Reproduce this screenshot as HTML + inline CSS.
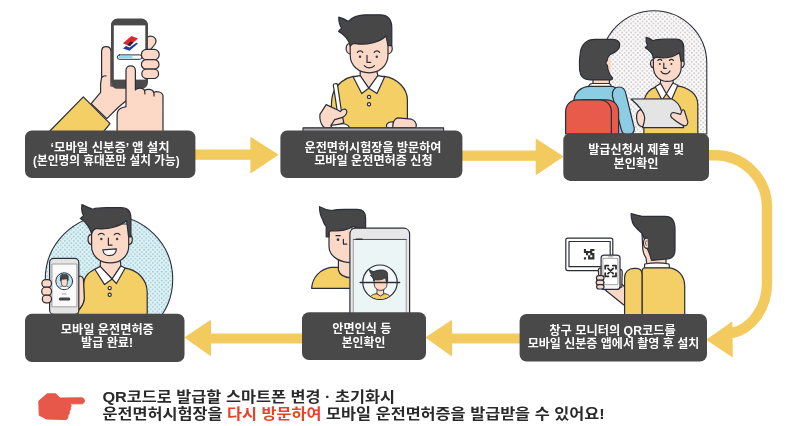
<!DOCTYPE html>
<html lang="ko">
<head>
<meta charset="utf-8">
<title>모바일 운전면허증 발급 절차</title>
<style>
html,body{margin:0;padding:0;background:#fff;}
body{width:790px;height:426px;overflow:hidden;font-family:"Liberation Sans","Noto Sans CJK KR",sans-serif;}
svg{display:block;will-change:transform;opacity:.999;}
.bx{fill:#494949;}
.ar{fill:#f2ca5e;}
.t{font-family:"Liberation Sans","Noto Sans CJK KR",sans-serif;font-weight:700;font-size:12px;fill:#fff;text-anchor:middle;stroke:#3a3a3a;stroke-width:.25px;paint-order:stroke;}
.b{font-family:"Liberation Sans","Noto Sans CJK KR",sans-serif;font-weight:700;font-size:15px;fill:#2a2a2a;}
.o{stroke:#2b2e39;stroke-width:1.2;stroke-linejoin:round;stroke-linecap:round;}
</style>
</head>
<body>
<svg width="790" height="426" viewBox="0 0 790 426">
<defs>
<pattern id="dots" width="4.5" height="4.5" patternUnits="userSpaceOnUse"><rect width="4.5" height="4.5" fill="#fbfbfb"/><circle cx="1.1" cy="1.1" r=".85" fill="#c6bebe"/><circle cx="3.35" cy="3.35" r=".85" fill="#c6bebe"/></pattern>
<pattern id="bdots" width="4.4" height="4.4" patternUnits="userSpaceOnUse"><rect width="4.4" height="4.4" fill="#d9f3f8"/><rect x=".4" y=".4" width="1.4" height="1.4" fill="#a3bfc5"/><rect x="2.6" y="2.6" width="1.4" height="1.4" fill="#a3bfc5"/></pattern>
</defs>
<rect width="790" height="426" fill="#fff"/>

<!-- ARROWS -->
<g class="ar" stroke="#f2ca5e" stroke-width="1.2" stroke-linejoin="round">
<polygon points="195,150 251,150 251,137.8 277.6,154.8 251,172.6 251,159.2 195,159.2"/>
<polygon points="462,151.2 536.3,151.2 536.3,139.4 562.6,156.6 536.3,174.2 536.3,160.2 462,160.2"/>
<polygon points="520,334.2 451.5,334.2 451.5,320.8 426.4,337.6 451.5,355.6 451.5,342.8 520,342.8"/>
<polygon points="302,334.2 210.4,334.2 210.4,320.8 185.4,337.6 210.4,355.2 210.4,342.8 302,342.8"/>
</g>
<path d="M709,155.3 H715 A52,52 0 0 1 767,207 V283 A43,51 0 0 1 731.6,333.2" fill="none" stroke="#f2ca5e" stroke-width="10.4"/>
<polygon class="ar" points="707.2,339.7 731.8,322.4 732.2,356.6" stroke="#f2ca5e" stroke-width="1.2" stroke-linejoin="round"/>

<!-- ILLUSTRATIONS -->
<g id="ill1" class="o">
<polygon points="83.3,96.8 110,123.6 100,136 45,136" fill="#f3cf66"/>
<path d="M91.2,103.6 L100.6,92.4 C100.2,87 100.4,82 101.6,77.5 L101.6,51.5 C101.6,45 110.6,45 111,51.5 L111,86 L127,86 L127,100 L118.6,107 L106.8,118.6 Z" fill="#fbd9c6"/>
<path d="M101.6,77.5 C103,76 104.5,75.6 106,75.8" fill="none"/>
<path d="M147,49.5 L147,37.5 C150,34.5 156.2,36.6 156,41.5 C155.8,45.5 152,47 150.5,49.5 Z" fill="#fbd9c6"/>
<rect x="111" y="18.5" width="37" height="70.3" rx="6.5" fill="#4a4a4a" stroke="none"/>
<rect x="113.8" y="25.4" width="31.5" height="54.2" fill="#fff" stroke="none"/>
<polygon points="131.4,36 138.1,38.5 129.2,46 122.9,43.2" fill="#e0262d" stroke="none"/>
<polygon points="130.4,41.4 133.5,42.2 130,46.2 127.6,44.8" fill="#2a2230" stroke="none"/>
<polygon points="122.9,48.6 126,46 129.5,47.5 136.3,42.8 138,43.6 129.5,50.7" fill="#1a3fa0" stroke="none"/>
<rect x="117.3" y="54.9" width="24.6" height="4.4" rx="2.2" fill="#fbfeff" stroke-width="1"/>
<rect x="118.3" y="55.9" width="14.4" height="2.4" rx="1.2" fill="#8fdcf0" stroke="none"/>
<rect x="141.4" y="49.4" width="17.8" height="10.4" rx="5" fill="#fbd9c6"/>
<rect x="141.4" y="59.6" width="17.6" height="9.6" rx="4.8" fill="#fbd9c6"/>
<rect x="141.8" y="69.1" width="16.8" height="9.4" rx="4.7" fill="#fbd9c6"/>
<path d="M117.1,136 L117.1,114.8 C117.2,111.5 118.4,109.8 120.4,108.6 C122,107.6 124,107 126,106.6 L126,70.5 C126,64.4 135.4,64.4 135.4,70.5 L135.4,90 C137,87.6 143,87.4 144.6,90.6 C146.6,88.6 152.4,88.8 153.8,92.4 C156,91 162.6,91.6 163,96 L163,136 Z" fill="#fbd9c6"/>
<path d="M144.6,90.6 L144.9,94 M153.8,92.4 L154.1,96" fill="none"/>
</g>
<g id="ill2" class="o">
<path d="M353,76.4 C345,78 337,84 333.6,92 C331.6,97 331.4,102 331.4,106 L331.4,128 L407.4,128 L407.4,100 C407.4,88 397,78.4 384.4,76.4 Z" fill="#f3cf66"/>
<polygon points="360.2,70 376.6,70 378,76.4 368.8,88.4 360.2,76.4" fill="#fbd9c6"/>
<polygon points="353.2,77 360.2,75.6 368.8,88.2 361.7,93.6" fill="#fff"/>
<polygon points="384.6,77 377.8,75.6 368.8,88.2 377,93.6" fill="#fff"/>
<circle cx="369" cy="96.9" r="1.6" fill="#fff"/>
<circle cx="369" cy="104.3" r="1.6" fill="#fff"/>
<!-- ears -->
<path d="M350.4,43.6 C345,42.4 344.4,53.6 350.4,54" fill="#fbd9c6"/>
<path d="M387.8,43.6 C393.4,42.4 394,53.6 387.8,54" fill="#fbd9c6"/>
<!-- face -->
<path d="M350.2,36 L388,36 L388,55 C388,66 379,72.8 369,72.8 C359,72.8 350.2,66 350.2,55 Z" fill="#fbd9c6"/>
<!-- hair -->
<path d="M350.2,46 C349,40 344,34 338.6,31.4 C339.6,30 340.6,29 341.6,28.2 C339.6,25 338.6,21 338.8,17.2 C342,18 345.4,19.4 348.4,21.4 C352,17 358,14.8 366,14.8 L380,14.8 C388,14.8 391.8,20 391.8,28 L391.8,45.6 L388,45.6 L386,36 C380,42 366,46 355,43.4 C353,43.4 351.4,44.6 350.2,46 Z" fill="#474747"/>
<!-- features -->
<circle cx="360" cy="56.7" r="1.2" fill="#3c3c3c" stroke="none"/>
<circle cx="376.8" cy="56.7" r="1.2" fill="#3c3c3c" stroke="none"/>
<path d="M357.4,52.4 C358.6,50.4 361.6,50.4 362.8,52.4 M374.2,52.4 C375.4,50.4 378.4,50.4 379.6,52.4 M367,55.4 L367,62.3 L370.8,62.3 M364.2,65.6 C366.6,68.6 372,68.6 374.5,65.6" fill="none"/>
<!-- pen -->
<path d="M333.3,85 C333.2,83.6 337.2,83.2 337.5,84.6 L342.4,118 L338.4,118.6 Z" fill="#fff"/>
<!-- paper -->
<path d="M331,128 L331,124.6 C336,123.6 342,123.4 345,124 C347.4,124.6 349,126 350,128 Z" fill="#fff"/>
<!-- left hand -->
<path d="M326.2,104.6 L338.2,110.2 L340.3,111.6 C342,109.4 345,108 346.4,110.2 C348,112.6 345.6,115.6 342.7,117.3 L343.8,122.9 C340,124.4 335,125 331.1,125.2 L331.1,127.8 L324.6,127.8 L322.7,126 C320.6,123 319.6,119 319.9,114.4 Z" fill="#fbd9c6"/>
<path d="M331.1,125.2 L334.6,119.6 L342.7,117.3" fill="none"/>
<!-- right hand -->
<path d="M386.4,126 C386.4,123.4 389.4,121.8 393.4,121.6 L393.4,127.8 L388,127.8 C387,127.6 386.4,127 386.4,126 Z" fill="#fde9de"/>
<path d="M392.8,127.8 C392.4,123 394.4,118.6 397.6,117.8 L411.6,119.2 C414.6,120.4 416.4,123.4 416.3,126 C416.2,127.2 415.6,127.8 414.6,127.8 Z" fill="#fbd9c6"/>
<!-- desk -->
<rect x="303" y="127.6" width="140.6" height="3.6" fill="#a6a6a6" stroke="none"/><path d="M303,131 V127.9 H443.6 V131" fill="none" stroke-width="1.1"/>
</g>
<g id="ill3" class="o">
<path d="M601.2,134 V63.5 A52.8,52.8 0 0 1 706.8,63.5 V134 Z" fill="url(#dots)" stroke-width="1.1"/>
<!-- man body -->
<path d="M655.4,87.4 C650,89 646.4,93 644.6,98.4 L643.8,134 L697.8,134 L697.8,104 C697.4,94 689,87.4 677,85.8 Z" fill="#f3cf66"/>
<polygon points="661,78 672.7,78 673.4,84 666.4,94 660,84.6" fill="#fbd9c6"/>
<polygon points="655.2,86.8 660.6,83.4 666.4,93.8 662,100" fill="#fff"/>
<polygon points="677.8,85.2 672.8,83 666.4,93.8 671.4,100" fill="#fff"/>
<!-- man ears/face -->
<path d="M653.6,59.6 C649.6,58.8 649.4,67.4 653.6,67.8" fill="#fbd9c6"/>
<path d="M681,59.6 C685.2,58.8 685.4,67.4 681,67.8" fill="#fbd9c6"/>
<path d="M653.4,52 L681.2,52 L681.2,67 C681.2,76 674.6,81.4 667.4,81.4 C660,81.4 653.4,76 653.4,67 Z" fill="#fbd9c6"/>
<path d="M653.6,59 C653,54.6 649.4,50 645.2,47.8 C646,46.8 646.8,46 647.6,45.4 C646.2,43 645.8,40 646.1,37.4 C648.6,38 651,39.2 653,40.8 C655.6,39.4 659,39.2 664,39.2 L676,39.2 C681.4,39.2 683.8,42.4 683.8,48 L683.8,61.2 L681,61.2 L679.4,52.6 C675,56.6 665,59.4 657,57.2 C655.6,57.4 654.4,58 653.6,59 Z" fill="#474747"/>
<circle cx="659.8" cy="63.9" r="1" fill="#3c3c3c" stroke="none"/>
<circle cx="671.4" cy="63.9" r="1" fill="#3c3c3c" stroke="none"/>
<path d="M657.8,60.4 C658.8,59 660.8,59 661.8,60.4 M669.4,60.4 C670.4,59 672.4,59 673.4,60.4 M663.8,63.2 L663.8,68.4 L666.2,68.4 M661,71.4 C663,74.8 668,74.8 670,71" fill="none"/>
<!-- left hand behind paper -->
<path d="M640.4,109.6 C637.4,110.6 636.4,114 636.6,118 C636.8,122 638.6,126.4 641.6,126.6 L646,126.6 L646,110 Z" fill="#fbd9c6"/>
<!-- paper/tablet -->
<path d="M631,99 L671.3,98.8 C676.6,101 680,105 681.6,111.6 L683.5,127.7 L642.6,127.7 C644,123 645,120 644.6,117 C643.6,110 637,104 631,99 Z" fill="#e4e4e4"/>
<!-- right hand -->
<path d="M670.7,116 C670.6,114 672,112.6 673.7,112.5 L680.6,114.4 L682,110.4 C682.6,109.4 684,109.6 684.4,110.8 L687.8,121.6 C688,124 686.6,125.8 684.7,125.9 C680,124.4 676.6,121.4 673.7,119.2 C672,118.4 671,117.4 670.7,116 Z" fill="#fbd9c6"/>
<!-- woman -->
<rect x="593" y="76" width="16.4" height="9" fill="#fbd9c6"/>
<path d="M588.4,87 C589,85 590.4,83.6 592.4,83.5 L608.6,83.5 C610,83.6 611,85 611.4,87 Z" fill="#fff"/>
<path d="M573.8,134 L573.8,102 C573.8,93 581,86.3 590,86.3 L611,86.3 C615,86.4 617,88 618,91 L626,134 Z" fill="#8dcde4"/>
<path d="M612.4,96 C611.6,90.4 615,87 619,87 C623,87 625,89.6 625.8,93.4 L634.2,128 C635,132 632,135 628,135 C624,135 622.2,133 621.4,130 Z" fill="#8dcde4"/>
<path d="M604.8,56 L611,56 L611,72.8 L604.8,72.8 Z" fill="#fbd9c6" stroke="none"/>
<path d="M579.6,70 C579,64 579.4,58 580.4,52 C581.6,44 587,39.3 595,39.3 L613,39.3 C618.4,39.3 620.6,43 619.4,47 C618.4,50.6 614.6,52.6 610.4,54.4 C608.4,56.4 607,58.6 607.2,60.6 C605.6,61.4 605.4,64.6 607.4,65.2 C607.6,70 609.6,74.6 612.4,77.8 C612.8,79 612,79.9 610.6,79.9 L590,79.9 C584,79.9 580.2,76 579.6,70 Z" fill="#494949"/>
<!-- chair -->
<path d="M573,134 L573,112 C573,104.6 578,99.8 585,99.8 L606.6,99.8 C613.6,99.8 618.6,104.6 618.6,112 L618.6,134 Z" fill="#e85a4a"/>
<path d="M565.6,134 L565.6,112 C565.6,104.6 570.6,99.8 577.6,99.8 L599.4,99.8 C606.4,99.8 611.4,104.6 611.4,112 L611.4,134 Z" fill="#e85a4a"/>
</g>
<g id="ill4" class="o">
<!-- monitor -->
<rect x="565.8" y="238.2" width="47" height="32.4" rx="2" fill="#fff"/>
<rect x="569" y="241.5" width="41.2" height="25.2" fill="#fff" stroke-width="1.2"/>
<path d="M583.9,248.9h2.1v2.1h-2.1zM590.2,248.9h2.1v2.1h-2.1zM592.3,248.9h2.1v2.1h-2.1zM583.9,251.0h2.1v2.1h-2.1zM586.0,251.0h2.1v2.1h-2.1zM588.1,251.0h2.1v2.1h-2.1zM590.2,251.0h2.1v2.1h-2.1zM586.0,253.1h2.1v2.1h-2.1zM590.2,253.1h2.1v2.1h-2.1zM592.3,253.1h2.1v2.1h-2.1zM588.1,255.2h2.1v2.1h-2.1zM592.3,255.2h2.1v2.1h-2.1zM583.9,257.3h2.1v2.1h-2.1zM588.1,257.3h2.1v2.1h-2.1zM590.2,257.3h2.1v2.1h-2.1zM592.3,257.3h2.1v2.1h-2.1z" fill="#2e2e2e" stroke="none"/>
<!-- wrist -->
<path d="M604,289 L623.8,305 L626,305 L626,288 L621.6,284 Z" fill="#fbd9c6"/>
<!-- index finger behind phone + thumb -->
<path d="M601.4,275.6 L601.4,268.6 C600,267.4 598.4,268.4 598.4,270.4 L598.6,275.8 Z" fill="#fbd9c6"/>
<path d="M619.6,269.6 C621.6,269 622.4,270.6 622.2,273 L621.8,287 L619.6,288 Z" fill="#fbd9c6"/>
<!-- phone -->
<rect x="601.1" y="255.1" width="18.9" height="34.3" rx="3" fill="#f6f6f6"/>
<rect x="603.3" y="258.4" width="14.6" height="26.2" fill="#fff" stroke="#8a8a8a" stroke-width=".7"/>
<path d="M608.6,256.8 H612.6" stroke="#8a8a8a" stroke-width=".7"/>
<path d="M605.2,268.8 V265.6 H608.4 M612.8,265.6 H616.0 V268.8 M605.2,273.2 V276.4 H608.4 M612.8,276.4 H616.0 V273.2 M608.0,268.4 L613.2,273.6 M613.2,268.4 L608.0,273.6" fill="none" stroke="#2e2e2e" stroke-width="1.8" stroke-linecap="round" stroke-linejoin="round"/>
<!-- fingers -->
<rect x="596.4" y="275.6" width="7.6" height="4.8" rx="2.3" fill="#fbd9c6"/>
<rect x="596.2" y="280.2" width="7.8" height="4.6" rx="2.3" fill="#fbd9c6"/>
<rect x="596.6" y="284.6" width="7.4" height="4.4" rx="2.2" fill="#fbd9c6"/>
<!-- neck/face -->
<path d="M642,233.4 L642.8,249.6 C643.4,253 644.6,256 646,257.8 L646.9,265 L666,265 L666,240 Z" fill="#fbd9c6"/>
<!-- collar -->
<path d="M644.7,264 C652,262.6 662,262.6 669,264 L669.6,268.4 L644.4,268.4 Z" fill="#fff"/>
<!-- body -->
<path d="M642,315 L642,272 C642,270 643,268 644.6,267.8 L669,267.8 C678,268.6 684.7,276 684.7,286 L684.7,315 Z" fill="#f3cf66"/>
<path d="M624.6,315 L624.6,277.6 C624.6,272 628.6,268.4 634,268.4 L636,268.4 C639.6,268.4 642,270.6 642,274 L642,315 Z" fill="#f3cf66"/>
<!-- hair -->
<path d="M631.2,213.6 C634,214.4 638,215.6 642,216.3 L665,216.3 C671.6,216.3 675,221 675,229 L675,250 C675,255 672,258.4 667.7,259 L651.5,260.4 C650.4,256 648,250 647,248.2 C646,243 644,237 642,233.4 C638,229.6 633.4,226 632.4,222 C631.4,219 631,216 631.2,213.6 Z" fill="#474747"/>
<!-- ear -->
<path d="M647.6,238.2 C643.4,237 642.4,244 644.4,247 C645.4,248.4 647,248.6 648,248" fill="#fbd9c6"/>
<path d="M646.8,240.6 C645.2,241 645,244 646.2,245.4" fill="none" stroke-width=".8"/>
</g>
<g id="ill5" class="o">
<!-- body -->
<path d="M311.6,288.3 C312.4,277 320,269.4 331,267.4 L352,267.4 L352,288.3 Z" fill="#f3cf66"/>
<!-- neck + face -->
<path d="M338.4,256 L338.4,270 C339.4,274.4 344,277.6 352,278 L352,256 Z" fill="#fbd9c6"/>
<path d="M329,226 L352,226 L352,262.6 C342,262.8 329,258 329,246 Z" fill="#fbd9c6"/>
<!-- hair -->
<path d="M319.5,206.7 C323,208.6 327.4,210 331.7,210.6 C335,209.6 340,209.4 345,209.4 L357,209.4 C362.6,209.4 365.6,212.4 365.6,218 L365.6,232 L353,226.4 C349,229.6 340,231.6 331.6,230.6 C330.4,230.8 329.4,231.4 329,232.4 L329,236.8 L326.2,236.8 L326.2,226.7 C324.6,224.6 323.4,222.4 322.8,220 C320.6,216 319.4,211 319.5,206.7 Z" fill="#474747"/>
<circle cx="338" cy="239.7" r="1.35" fill="#3c3c3c" stroke="none"/>
<path d="M336,235.7 H340.2 M343.4,239.4 V244.1 H346.9" fill="none"/>
<!-- phone -->
<path d="M349.9,314 L349.9,234 C349.9,230.6 352.4,228.2 355.9,228.2 L403.6,228.2 C407.1,228.2 409.6,230.6 409.6,234 L409.6,314 Z" fill="#e7e7e7"/>
<rect x="353.6" y="239.4" width="52.6" height="76" fill="#ebf5f5" stroke="#8a8a8a" stroke-width=".8"/>
<path d="M353.6,239.5 H406.2" stroke="#555" stroke-width="1.2" fill="none"/>
<path d="M356.4,239.2 H362" stroke="#333" stroke-width="1.6" fill="none"/>
<clipPath id="c5"><circle cx="380" cy="282.2" r="16.8"/></clipPath>
<circle cx="380" cy="282.2" r="17.2" fill="#f3f9f9" stroke-width="1.2"/>
<g clip-path="url(#c5)" stroke-width=".9">
<path d="M369,300 C369.4,296 373,294 376,293.8 L385,293.8 C388,294 391,296 391.4,300 Z" fill="#f3cf66"/>
<path d="M377.6,288 L383.4,288 L383.8,294 L380.5,296 L377.2,294 Z" fill="#fbd9c6"/>
<path d="M374.2,277 L387,277 L387,284 C387,288 384,290.4 380.6,290.4 C377.2,290.4 374.2,288 374.2,284 Z" fill="#fbd9c6"/>
<path d="M369.6,270 C371,270.8 372.6,271.4 374,271.6 C376,270.4 379,270 382,270 C385.6,270 387.6,271.6 387.6,274.6 L387.6,281.4 L386.2,281.4 L385.6,277.6 C383,279.6 378,280.6 374.6,279.6 L374,281 C373.4,278 371.6,276.4 370.4,275.4 C371,274.8 371.2,274.6 371.4,274.2 C370.2,273 369.6,271.6 369.6,270 Z" fill="#474747"/>
</g>
<path d="M360.2,282.6 H399.6" stroke-width="1.5" fill="none"/>
</g>
<g id="ill6" class="o">
<circle cx="109" cy="279.2" r="63.7" fill="url(#bdots)" stroke-width="1.1"/>
<!-- body -->
<path d="M94.8,269.3 C91,271 88,273.4 86,276.4 C84,279.6 83.4,283 83.5,287 L84.3,298 C84,303 81,308 78,311 L78,315 L147.2,315 L147.2,292 C147,280 138,270 125.1,268.2 Z" fill="#f3cf66"/>
<polygon points="100.7,258 120.1,258 120.8,266 112.1,279.2 100.2,266.8" fill="#fbd9c6"/>
<polygon points="94.8,269.3 100.2,266.4 112.1,279 104.6,284.6" fill="#fff"/>
<polygon points="125.1,268.2 120.8,265.8 112.1,279 116.4,283.5" fill="#fff"/>
<circle cx="109.7" cy="288.1" r="1.6" fill="#fff"/>
<circle cx="109.7" cy="294.8" r="1.6" fill="#fff"/>
<!-- ears, face -->
<path d="M91.8,234.6 C87,233.6 86.6,244 91.8,244.6" fill="#fbd9c6"/>
<path d="M128.5,234.6 C133.4,233.6 133.8,244 128.5,244.6" fill="#fbd9c6"/>
<path d="M91.6,224 L128.7,224 L128.7,246 C128.7,256.6 120,262.9 110.2,262.9 C100.4,262.9 91.6,256.6 91.6,246 Z" fill="#fbd9c6"/>
<!-- hair -->
<path d="M91.6,233.8 C90.6,228.6 86,222 80.4,218.6 C81.4,217.4 82.4,216.4 83.4,215.6 C81.8,212.4 81.4,208.4 81.9,204.5 C85.4,206.2 89,208 92.7,209.2 C96,208 101,207.7 107,207.7 L121,207.7 C127.6,207.7 130.9,211.4 130.9,218 L130.9,236.9 L128.6,236.9 L126.6,220.8 C120,226.6 106,230.4 97,228.4 C94.6,228.8 92.6,230.8 91.6,233.8 Z" fill="#474747"/>
<circle cx="101.3" cy="239" r="1.2" fill="#3c3c3c" stroke="none"/>
<circle cx="117.1" cy="239" r="1.2" fill="#3c3c3c" stroke="none"/>
<path d="M98.4,234.8 C99.6,232.8 103,232.8 104.2,234.8 M114.2,234.8 C115.4,232.8 118.8,232.8 120,234.8 M108.4,238 L108.4,245.1 L112.1,245.1" fill="none"/>
<path d="M102.8,249.8 L116.4,248.8 C116.4,257.4 103.6,257.8 102.8,249.8 Z" fill="#fff"/>
<!-- thumb/palm behind phone -->
<path d="M77,277.6 C79.6,275.4 82.4,275.8 83.4,279 L84.3,298 C84,303 81,308 77,311 Z" fill="#fbd9c6"/>
<!-- phone -->
<rect x="49.6" y="258.4" width="29.2" height="56" rx="4.2" fill="#e4e4e4"/>
<rect x="52.3" y="264" width="24.6" height="42.8" fill="#fafafa" stroke="#8a8a8a" stroke-width=".8"/>
<circle cx="64.2" cy="281.2" r="8.4" fill="#c2e5ef" stroke-width="1"/>
<clipPath id="c6"><circle cx="64.2" cy="281.2" r="7.9"/></clipPath>
<g clip-path="url(#c6)" stroke-width=".7">
<path d="M57.6,292 C58,287.6 60.6,286.2 62.6,286 L65.8,286 C67.8,286.2 70.4,287.6 70.8,292 Z" fill="#fff"/>
<path d="M61.2,278 L67.4,278 L67.4,282.4 C67.4,285 66,286.6 64.3,286.6 C62.6,286.6 61.2,285 61.2,282.4 Z" fill="#fbd9c6"/>
<path d="M60.4,280.4 L60.4,276.6 C60.4,275 61.6,274.4 63,274.4 L66,274.4 C67.4,274.4 68.2,275.2 68.2,276.6 L68.2,280.4 L67.4,280.4 L67.2,278.4 C65.6,279.2 63,279.4 61.4,279 L61.2,280.4 Z" fill="#474747"/>
</g>
<path d="M62.2,294 H66.2" stroke="#9a9a9a" stroke-width=".9" fill="none"/>
<rect x="58.8" y="297.6" width="11.5" height="3" rx="1.5" fill="#444" stroke="none"/>
<!-- fingers -->
<rect x="41.9" y="279.6" width="9.6" height="7.8" rx="3.8" fill="#fbd9c6"/>
<rect x="41.7" y="287.2" width="9.8" height="8.2" rx="4" fill="#fbd9c6"/>
<rect x="42.3" y="295.2" width="9.2" height="7.6" rx="3.7" fill="#fbd9c6"/>
</g>

<!-- BOXES -->
<rect class="bx" x="25" y="130.4" width="170.4" height="47.6" rx="7"/>
<rect class="bx" x="280.4" y="130.4" width="182" height="47.6" rx="7"/>
<rect class="bx" x="563.3" y="133.3" width="145.7" height="47.6" rx="7"/>
<rect class="bx" x="519.6" y="314" width="187.4" height="47.6" rx="7"/>
<rect class="bx" x="302" y="312.3" width="124" height="47.7" rx="7"/>
<rect class="bx" x="25" y="313.8" width="159.5" height="48.2" rx="7"/>

<!-- BOX TEXT -->
<text class="t" x="110.1" y="151.6" textLength="119" lengthAdjust="spacingAndGlyphs">‘모바일 신분증’ 앱 설치</text>
<text class="t" x="106.3" y="165.1" textLength="146.5" lengthAdjust="spacingAndGlyphs">(본인명의 휴대폰만 설치 가능)</text>
<text class="t" x="373" y="151.6" textLength="137" lengthAdjust="spacingAndGlyphs">운전면허시험장을 방문하여</text>
<text class="t" x="373.4" y="164.9" textLength="118.5" lengthAdjust="spacingAndGlyphs">모바일 운전면허증 신청</text>
<text class="t" x="636.2" y="154.3" textLength="96" lengthAdjust="spacingAndGlyphs">발급신청서 제출 및</text>
<text class="t" x="636" y="167.5" textLength="45" lengthAdjust="spacingAndGlyphs">본인확인</text>
<text class="t" x="612.5" y="334.8" textLength="126.6" lengthAdjust="spacingAndGlyphs">창구 모니터의 QR코드를</text>
<text class="t" x="613.5" y="348.3" textLength="171.7" lengthAdjust="spacingAndGlyphs">모바일 신분증 앱에서 촬영 후 설치</text>
<text class="t" x="361.8" y="332.9" textLength="59" lengthAdjust="spacingAndGlyphs">안면인식 등</text>
<text class="t" x="363.5" y="346.5" textLength="43.7" lengthAdjust="spacingAndGlyphs">본인확인</text>
<text class="t" x="107.3" y="333.6" textLength="93" lengthAdjust="spacingAndGlyphs">모바일 운전면허증</text>
<text class="t" x="107" y="347" textLength="52" lengthAdjust="spacingAndGlyphs">발급 완료!</text>

<!-- FOOTER -->
<g id="hand"><path d="M38.8,401 L47.1,393.8 L55.6,393.8 L59.9,398 L81.6,397.8 C85.4,397.8 85.4,403.8 81.6,403.8 L70,403.8 C71.4,405 71.4,406.6 70.4,407.6 C71,408.8 70.6,410.4 69.2,411.2 C69.8,412.6 69.4,414.4 68,415.2 C68.4,417 67.4,419 66,419.6 L46.5,419 L39.2,415.2 Z" fill="#e8584a" stroke="#e8584a" stroke-width="1" stroke-linejoin="round"/></g>
<text class="b" x="102.4" y="402.4" textLength="292.5" lengthAdjust="spacingAndGlyphs">QR코드로 발급할 스마트폰 변경 · 초기화시</text>
<text class="b" x="102.6" y="419.4" textLength="502" lengthAdjust="spacingAndGlyphs">운전면허시험장을 <tspan fill="#e6432b">다시 방문하여</tspan> 모바일 운전면허증을 발급받을 수 있어요!</text>
</svg>
</body>
</html>
